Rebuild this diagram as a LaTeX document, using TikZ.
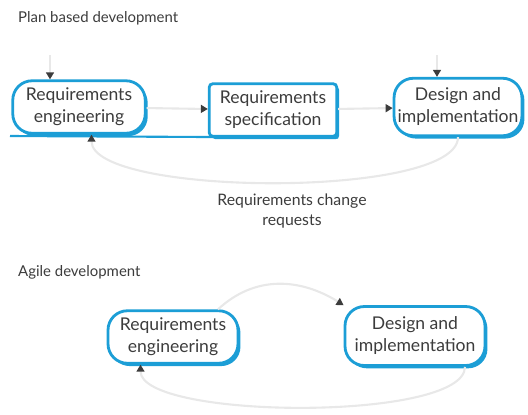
\documentclass[tikz,border=0pt]{standalone}
\usepackage{fontspec}
\setmainfont{Lato}
\usetikzlibrary{positioning,shadows,arrows.meta}
\definecolor{boxblue}{RGB}{28,158,214}
\definecolor{txtgray}{RGB}{60,60,60}
\definecolor{linegray}{RGB}{232,232,232}

\begin{document}
\begin{tikzpicture}[x=0.02cm,y=-0.02cm,
  stadium/.style={draw=boxblue,line width=1.6pt,fill=white,rounded corners=11pt,align=center,text=txtgray,font=\fontsize{10}{12.5}\selectfont,inner sep=2pt,drop shadow={shadow xshift=1.4pt,shadow yshift=-1.6pt,fill=boxblue,opacity=1}},
  specbox/.style={stadium,rounded corners=2pt},
  flow/.style={draw=linegray,line width=1.2pt,-{Triangle[length=4pt,width=4.5pt,color=txtgray,fill=txtgray]}},
  heading/.style={text=txtgray,font=\fontsize{8.5}{10}\selectfont,anchor=west},
  note/.style={text=txtgray,font=\fontsize{9}{11}\selectfont,align=center}]
\useasboundingbox (0,0) rectangle (528,414);

% plan based
\node[heading] (plan_title) at (12,18) {Plan based development};
\node[stadium,minimum width=2.65cm,minimum height=1.05cm] (plan_re) at (79,107) {Requirements\\engineering};
\node[specbox,minimum width=2.55cm,minimum height=1.05cm] (plan_spec) at (273,110) {Requirements\\specification};
\node[stadium,minimum width=2.5cm,minimum height=1.15cm] (plan_des) at (458,107) {Design and\\implementation};
\coordinate (plan_base) at (10,136);
\draw[boxblue,line width=1.2pt] (plan_base) -- (plan_spec.south east);
\draw[flow] (plan_re) -- (plan_spec);
\draw[flow] (plan_spec) -- (plan_des);
\coordinate (plan_re_in) at (50,55);
\coordinate (plan_des_in) at (437,55);
\draw[flow] (plan_re_in) -- (plan_re_in |- plan_re.north);
\draw[flow] (plan_des_in) -- (plan_des_in |- plan_des.north);
\draw[flow] (plan_des.south) .. controls +(0,62) and +(0,62) .. ([xshift=0.25cm]plan_re.south);
\node[note] (plan_change) at (292,211) {Requirements change\\requests};

% agile
\node[heading] (agile_title) at (12,272) {Agile development};
\node[stadium,minimum width=2.6cm,minimum height=1.05cm] (agile_re) at (173,337) {Requirements\\engineering};
\node[stadium,minimum width=2.8cm,minimum height=1.18cm] (agile_des) at (415,336) {Design and\\implementation};
\draw[flow] ([xshift=0.9cm]agile_re.north) .. controls (255,275) and (300,278) .. (agile_des.north west);
\draw[flow] ([xshift=1cm]agile_des.south) .. controls +(0,55) and +(0,55) .. ([xshift=-0.65cm]agile_re.south);

\end{tikzpicture}
\end{document}
